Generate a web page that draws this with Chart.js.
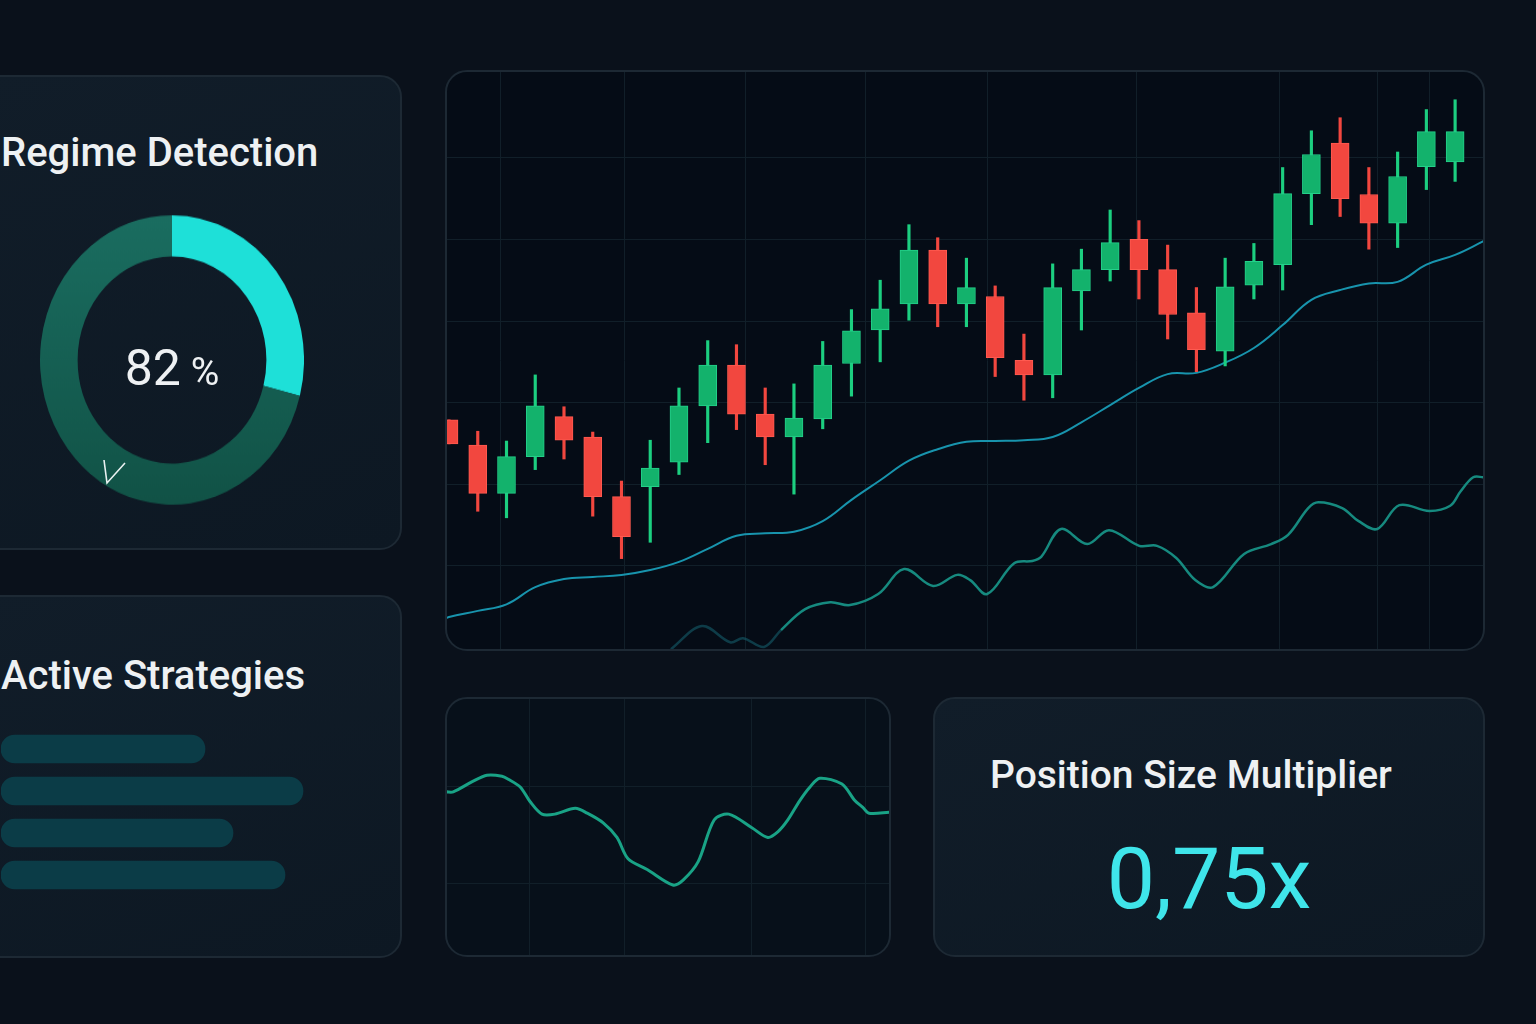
<!DOCTYPE html>
<html>
<head>
<meta charset="utf-8">
<script src="https://cdn.jsdelivr.net/npm/chart.js@4.4.1/dist/chart.umd.min.js"></script>
<style>
  html, body { margin: 0; padding: 0; }
  body {
    width: 1536px; height: 1024px; overflow: hidden; position: relative;
    background: #0a111b; font-family: Roboto, "Noto Sans", sans-serif; color: #eef1f3;
  }
  .panel {
    position: absolute; box-sizing: border-box; border: 2px solid #1d2934;
    border-radius: 22px; overflow: hidden;
  }
  .soft { background: linear-gradient(160deg, #111d29 0%, #0d1823 100%); }
  .deep { background: #050c16; }
  .title { position: absolute; white-space: nowrap; line-height: 1; }
  canvas { position: absolute; display: block; }
</style>
</head>
<body>

<div class="panel soft" style="left:-30px; top:75px; width:432px; height:475px;"></div>
<div class="panel soft" style="left:-30px; top:595px; width:432px; height:363px;"></div>
<div class="panel deep" style="left:445px; top:70px; width:1040px; height:581px;">
  <canvas id="priceChart" width="1036" height="577" style="left:0; top:0;"></canvas>
</div>
<div class="panel" style="left:445px; top:697px; width:446px; height:260px; background:#07101a;">
  <canvas id="sizeChart" width="442" height="256" style="left:0; top:0;"></canvas>
</div>
<div class="panel soft" style="left:933px; top:697px; width:552px; height:260px;"></div>

<div class="title" style="left:1px; top:133px; font-size:40px; font-weight:500;">Regime Detection</div>
<div style="position:absolute; left:40px; top:228px; width:264px; height:264px; transform:scaleY(1.096); transform-origin:50% 50%;">
  <canvas id="regimeChart" width="264" height="264" style="left:0; top:0;"></canvas>
</div>
<div class="title" style="left:72px; top:343px; width:200px; text-align:center; font-size:50px;">82<span style="font-size:39px;"> %</span></div>
<svg style="position:absolute; left:100px; top:455px;" width="30" height="32">
  <polyline points="4,5 7,28 25,8" fill="none" stroke="#e9f1f1" stroke-width="1.6"/>
</svg>

<div class="title" style="left:1px; top:656px; font-size:40px; font-weight:500;">Active Strategies</div>
<canvas id="strategyChart" width="400" height="168" style="left:1px; top:728px;"></canvas>

<div class="title" style="left:990px; top:756px; font-size:39px; font-weight:500;">Position Size Multiplier</div>
<div class="title" style="left:933px; top:836px; width:552px; text-align:center; font-size:86px; color:#3fe5ea;">0,75x</div>

<script>
// candles, one per session (price units)
const opens  = [117.9, 114.8, 108.9, 113.4, 118.3, 115.8, 108.5, 109.7, 112.7, 119.6, 124.6, 118.6, 115.8, 118.0, 124.8, 128.9, 132.1, 138.7, 132.1, 133.0, 125.2, 123.4, 133.7, 136.3, 140.0, 136.3, 131.0, 126.3, 134.4, 136.9, 145.6, 151.8, 145.5, 142.0, 148.9, 149.5];
const closes = [114.95, 108.9, 113.4, 119.6, 115.4, 108.5, 103.6, 112.0, 119.6, 124.6, 118.6, 115.8, 118.1, 124.6, 128.8, 131.5, 138.7, 132.1, 134.1, 125.5, 123.4, 134.1, 136.3, 139.6, 136.3, 130.8, 126.5, 134.2, 137.3, 145.6, 150.4, 145.0, 142.0, 147.7, 153.2, 153.2];
const highs  = [117.9, 116.5, 115.3, 123.4, 119.5, 116.4, 110.4, 115.4, 121.8, 127.6, 127.1, 121.8, 122.3, 127.5, 131.4, 135.0, 141.8, 140.2, 137.7, 134.3, 128.4, 137.0, 138.8, 143.6, 142.3, 139.3, 134.1, 137.7, 139.5, 148.8, 153.3, 154.9, 148.8, 150.7, 155.9, 157.1];
const lows   = [114.95, 106.7, 105.9, 111.8, 113.1, 106.1, 100.9, 102.9, 111.2, 115.1, 116.7, 112.4, 108.8, 116.8, 120.8, 125.0, 130.1, 129.3, 129.3, 123.2, 120.3, 120.6, 128.9, 134.9, 132.7, 127.8, 123.8, 124.5, 132.7, 133.8, 141.8, 142.8, 138.8, 139.0, 146.1, 147.1];

// moving average per session, plus the values where it meets the panel edges
const maValues = [93.75, 94.5, 95.3, 97.4, 98.4, 98.65, 98.9, 99.5, 100.5, 102.1, 103.7, 104.0, 104.2, 105.5, 108.1, 110.5, 112.9, 114.3, 115.2, 115.3, 115.4, 115.8, 117.6, 119.7, 121.8, 123.5, 123.65, 124.9, 126.7, 129.5, 132.6, 133.8, 134.6, 134.8, 136.9, 138.1];
const maEdges = [93.6, 139.8];

// lower oscillator (0-100), sampled at session positions
const oscX = [7.72, 8.8, 9.78, 10.23, 10.96, 11.55, 12.39, 13.26, 13.95, 14.93, 15.83, 16.84, 17.68, 18.13, 18.72, 19.66, 20.29, 20.6, 21.29, 22.2, 22.96, 24.01, 24.63, 25.3, 25.96, 26.58, 27.66, 28.6, 29.19, 29.89, 30.24, 31.07, 31.63, 32.29, 33.06, 34.1, 34.83, 35.18, 35.63, 36.0];
const oscY = [0.3, 4.3, 1.5, 2.2, 0.7, 3.6, 7.2, 8.4, 7.9, 9.8, 14.1, 11.2, 13.1, 12.2, 9.8, 15.1, 15.5, 16.2, 21.0, 18.4, 20.8, 18.1, 18.1, 16.0, 12.2, 11.0, 16.7, 18.4, 20.0, 24.6, 25.6, 24.6, 22.4, 21.0, 25.1, 24.1, 25.0, 27.4, 29.9, 29.9];

const priceGrid = [100, 110, 120, 130, 140, 150];
const timeGrid = [1.8, 6.1, 10.3, 14.5, 18.75, 23.9, 28.9, 32.3, 34.1];

// regime gauge
const regimeParts = [29, 71];

// active strategies (allocation %)
const strategies = ['S1', 'S2', 'S3', 'S4'];
const strategyWeights = [51, 75.5, 58, 71];

// position size history
const sizeX = [0, 1.6, 6.1, 9.2, 12.6, 14.0, 16.7, 18.9, 21.6, 24.5, 29.1, 31.8, 35.4, 38.5, 41.0, 45.3, 51.1, 53.4, 56.8, 60.4, 63.7, 68.9, 72.5, 74.8, 77.0, 79.7, 82.0, 84.2, 89.2, 92.1, 93.9, 95.3, 100];
const sizeY = [0.94, 0.94, 1.05, 1.11, 1.10, 1.07, 0.99, 0.84, 0.71, 0.71, 0.77, 0.72, 0.62, 0.47, 0.25, 0.14, -0.02, 0.03, 0.22, 0.65, 0.71, 0.57, 0.47, 0.53, 0.65, 0.85, 0.99, 1.08, 1.02, 0.85, 0.78, 0.72, 0.73];
const sizeGridX = [18.7, 40.1, 68.9, 94.4];
const sizeGridY = [0, 1];

const GREEN = '#13b26c';
const GREEN_WICK = '#1ccf80';
const RED = '#f2473f';
const GRID = '#111f29';

const fixedTicks = values => axis => { axis.ticks = values.map(v => ({ value: v })); };
const quietAxis = (extra) => Object.assign({
    type: 'linear',
    offset: false,
    border: { display: false },
    ticks: { display: false },
    grid: { color: GRID, lineWidth: 1, drawTicks: false, offset: false }
}, extra);

const baseOptions = {
    responsive: false,
    animation: false,
    events: [],
    layout: { padding: 0 },
    plugins: { legend: { display: false }, tooltip: { enabled: false } }
};

const isUp = i => closes[i] >= opens[i];

new Chart(document.getElementById('priceChart'), {
    type: 'bar',
    data: {
        datasets: [
            {
                type: 'line',
                data: [{ x: -0.1, y: maEdges[0] }, ...maValues.map((v, i) => ({ x: i, y: v })), { x: 36, y: maEdges[1] }],
                borderColor: '#1894ad', borderWidth: 2, pointRadius: 0, tension: 0.4, order: 3
            },
            {
                type: 'line',
                yAxisID: 'yOsc',
                data: oscX.map((x, i) => ({ x, y: oscY[i] })),
                borderColor: '#168a7f', borderWidth: 2.5, pointRadius: 0, tension: 0.35, order: 4,
                segment: { borderColor: c => c.p0.parsed.x < 11.5 ? 'rgba(22,100,115,0.55)' : undefined }
            },
            {
                data: opens.map((o, i) => ({ x: i, y: [lows[i], highs[i]] })),
                backgroundColor: opens.map((o, i) => isUp(i) ? GREEN_WICK : RED),
                barThickness: 2.5, grouped: false, order: 2
            },
            {
                data: opens.map((o, i) => ({ x: i, y: [o, closes[i]] })),
                backgroundColor: opens.map((o, i) => isUp(i) ? GREEN : RED),
                borderColor: opens.map((o, i) => isUp(i) ? '#24d08a' : '#ff5a50'),
                borderWidth: 1, borderSkipped: false,
                barThickness: 18, grouped: false, order: 1
            }
        ]
    },
    options: Object.assign({}, baseOptions, {
        scales: {
            x: quietAxis({ min: -0.07, max: 35.97, afterBuildTicks: fixedTicks(timeGrid) }),
            y: quietAxis({ min: 89.83, max: 160.5, afterBuildTicks: fixedTicks(priceGrid) }),
            yOsc: { type: 'linear', display: false, min: 0.34, max: 99.66 }
        }
    })
});

new Chart(document.getElementById('regimeChart'), {
    type: 'doughnut',
    data: {
        labels: ['Trend', 'Other'],
        datasets: [{
            data: regimeParts,
            borderWidth: 0,
            backgroundColor: ctx => {
                if (ctx.dataIndex === 0) return '#1ee0d8';
                const area = ctx.chart.chartArea;
                if (!area) return '#16645a';
                const g = ctx.chart.ctx.createLinearGradient(0, area.top, 0, area.bottom);
                g.addColorStop(0, '#1a6d60');
                g.addColorStop(1, '#115246');
                return g;
            }
        }]
    },
    options: Object.assign({}, baseOptions, { cutout: '71.5%' })
});

new Chart(document.getElementById('strategyChart'), {
    type: 'bar',
    data: {
        labels: strategies,
        datasets: [{
            data: strategyWeights,
            backgroundColor: '#0b3c47',
            borderRadius: 14, borderSkipped: false, barThickness: 28
        }]
    },
    options: Object.assign({}, baseOptions, {
        indexAxis: 'y',
        scales: {
            x: { min: 0, max: 100, display: false },
            y: { display: false }
        }
    })
});

new Chart(document.getElementById('sizeChart'), {
    type: 'line',
    data: {
        datasets: [{
            data: sizeX.map((x, i) => ({ x, y: sizeY[i] })),
            borderColor: '#19a386', borderWidth: 3, pointRadius: 0, tension: 0.3
        }]
    },
    options: Object.assign({}, baseOptions, {
        scales: {
            x: quietAxis({ min: 0.2, max: 99.8, afterBuildTicks: fixedTicks(sizeGridX) }),
            y: quietAxis({ min: -0.742, max: 1.897, afterBuildTicks: fixedTicks(sizeGridY) })
        }
    })
});
</script>
</body>
</html>
